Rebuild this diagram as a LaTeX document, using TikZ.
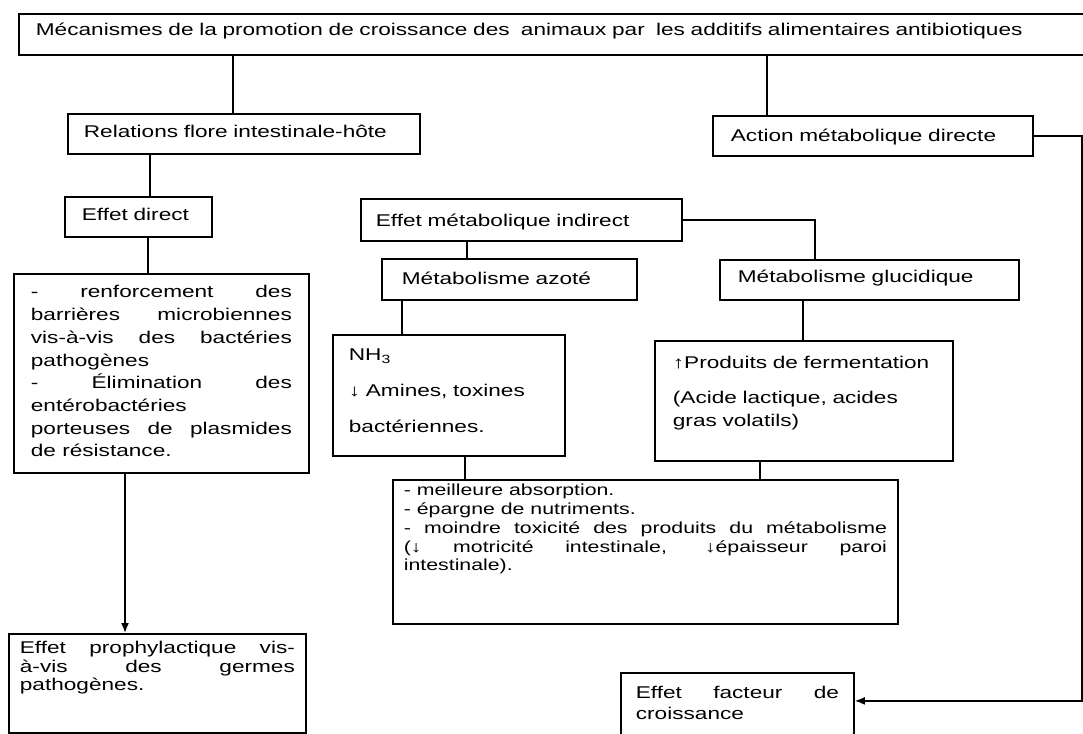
\documentclass[tikz,border=0pt]{standalone}
\usepackage{fontspec}
\setmainfont{Liberation Sans}[FakeStretch=1.33]
\usetikzlibrary{arrows.meta}
\newcommand\police[2]{\fontsize{#1}{#2}\selectfont}

\begin{document}
\begin{tikzpicture}[x=1pt,y=-1pt,
	boite/.style={draw,line width=1.8pt,anchor=north west,inner ysep=0pt,inner xsep=#1,align=left,font=\police{17}{22}},
	boite/.default=16pt,
	lien/.style={line width=1.6pt},
	fleche/.style={lien,-{Latex[length=10pt,width=8pt]}}]
	\useasboundingbox (0,0) rectangle (1083,733);
	% Boites
	\node[boite=17pt,text width=1038pt,text height=22pt,text depth=19pt] (titre) at (18,13) {Mécanismes de la promotion de croissance des~ animaux par~ les additifs alimentaires antibiotiques};
	\node[boite=16pt,text width=320pt,text height=24pt,text depth=16pt] (relations) at (67,113) {Relations flore intestinale-hôte};
	\node[boite=18pt,text width=284pt,text height=26pt,text depth=14pt] (action) at (712,115) {Action métabolique directe};
	\node[boite=17pt,text width=113pt,text height=24pt,text depth=16pt] (direct) at (64,196) {Effet direct};
	\node[boite=15pt,text width=291pt,text height=28pt,text depth=14pt] (indirect) at (360,198) {Effet métabolique indirect};
	\node[boite=20pt,text width=215pt,text height=26pt,text depth=15pt] (azote) at (381,258) {Métabolisme azoté};
	\node[boite=18pt,text width=263pt,text height=23pt,text depth=17pt] (glucide) at (719,259) {Métabolisme glucidique};
	\node[boite=17pt,text width=261pt,text height=24pt,text depth=175pt,align=justify,font=\police{17}{22.7}] (renfort) at (13,273)
		{- renforcement des\linebreak barrières microbiennes\linebreak vis-à-vis des bactéries\linebreak pathogènes\\- Élimination des\linebreak entérobactéries\\porteuses de plasmides\linebreak de résistance.};
	\node[boite=16pt,text width=200pt,text height=26pt,text depth=95pt,font=\police{17}{36}] (nh) at (332,334)
		{NH\textsubscript{3}\\↓ Amines, toxines\\bactériennes.};
	\node[boite=18pt,text width=262pt,text height=28pt,text depth=92pt,font=\police{17}{23}] (ferm) at (654,340)
		{↑Produits de fermentation\\[12pt](Acide lactique, acides\\gras volatils)};
	\node[boite=11pt,text width=483pt,text height=16pt,text depth=128pt,align=justify,font=\police{16}{18.7}] (gain) at (392,479)
		{- meilleure absorption.\\- épargne de nutriments.\\- moindre toxicité des produits du métabolisme\linebreak (↓ motricité intestinale, ↓épaisseur paroi\linebreak intestinale).};
	\node[boite=11pt,text width=275pt,text height=20pt,text depth=79pt,align=justify,font=\police{17}{18.5}] (prophyl) at (8,633)
		{Effet prophylactique vis-\linebreak à-vis des germes\linebreak pathogènes.};
	\node[boite=15pt,text width=203pt,text height=26pt,text depth=42pt,align=justify,font=\police{17}{21}] (facteur) at (620,672)
		{Effet facteur de\linebreak croissance};
	% Liens
	\draw[lien] ([xshift=166pt]relations.north west |- titre.south) -- ([xshift=166pt]relations.north west);
	\draw[lien] ([xshift=55pt]action.north west |- titre.south) -- ([xshift=55pt]action.north west);
	\draw[lien] ([xshift=86pt]direct.north west |- relations.south) -- ([xshift=86pt]direct.north west);
	\draw[lien] ([xshift=135pt]renfort.north west |- direct.south) -- ([xshift=135pt]renfort.north west);
	\draw[fleche] ([xshift=117pt]prophyl.north west |- renfort.south) -- ([xshift=117pt]prophyl.north west);
	\draw[lien] ([xshift=86pt]azote.north west |- indirect.south) -- ([xshift=86pt]azote.north west);
	\draw[lien] (indirect.east) -| ([xshift=96pt]glucide.north west);
	\draw[lien] ([xshift=70pt]nh.north west |- azote.south) -- ([xshift=70pt]nh.north west);
	\draw[lien] ([xshift=149pt]ferm.north west |- glucide.south) -- ([xshift=149pt]ferm.north west);
	\draw[lien] ([xshift=73pt]gain.north west |- nh.south) -- ([xshift=73pt]gain.north west);
	\draw[lien] ([xshift=368pt]gain.north west |- ferm.south) -- ([xshift=368pt]gain.north west);
	\draw[fleche] (action.east) -| ([xshift=227pt,yshift=6pt]facteur.east) -- ([yshift=6pt]facteur.east);
\end{tikzpicture}
\end{document}
